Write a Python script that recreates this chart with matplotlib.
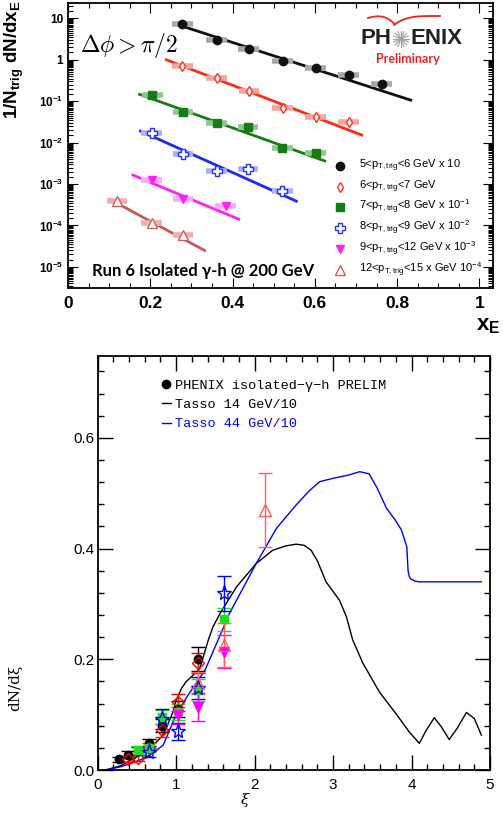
import numpy as np
import matplotlib.pyplot as plt
from matplotlib.lines import Line2D
from matplotlib.ticker import MultipleLocator, LogLocator, NullFormatter

plt.rcParams['font.family'] = ['Liberation Sans', 'DejaVu Sans']
plt.rcParams['mathtext.fontset'] = 'custom'
plt.rcParams['mathtext.rm'] = 'Liberation Sans'
plt.rcParams['mathtext.it'] = 'Liberation Sans:italic'
plt.rcParams['mathtext.bf'] = 'Liberation Sans:bold'

# ---------------- top panel data (x_E distributions) ----------------
xe_5_6 = [0.278, 0.361, 0.439, 0.522, 0.602, 0.682, 0.762]
dn_5_6 = [7.3, 3.0, 1.85, 0.93, 0.63, 0.43, 0.26]
xe_6_7 = [0.278, 0.361, 0.440, 0.522, 0.602, 0.682]
dn_6_7 = [0.72, 0.356, 0.178, 0.068, 0.041, 0.031]
xe_7_8 = [0.205, 0.279, 0.361, 0.438, 0.521, 0.602]
dn_7_8 = [0.14, 0.055, 0.030, 0.0237, 0.0075, 0.0055]
xe_8_9 = [0.203, 0.279, 0.361, 0.438, 0.521]
dn_8_9 = [0.0167, 0.0053, 0.00208, 0.00225, 0.00069]
xe_9_12 = [0.203, 0.279, 0.383]
dn_9_12 = [0.00124, 0.00043, 0.000297]
xe_12_15 = [0.119, 0.203, 0.279]
dn_12_15 = [0.00039, 0.000118, 5.8e-5]

# fit line end points (x, y)
fit_x = [(0.261, 0.833), (0.239, 0.714), (0.174, 0.624), (0.176, 0.555), (0.158, 0.415), (0.101, 0.332)]
fit_y = [(7.3, 0.106), (1.0, 0.0152), (0.146, 0.0036), (0.019, 0.000386), (0.00164, 0.000142), (0.00043, 2.5e-5)]

top_labels = [r'5<p$_{\mathrm{T,trig}}$<6 GeV x 10',
              r'6<p$_{\mathrm{T,trig}}$<7 GeV',
              r'7<p$_{\mathrm{T,trig}}$<8 GeV x 10$^{-1}$',
              r'8<p$_{\mathrm{T,trig}}$<9 GeV x 10$^{-2}$',
              r'9<p$_{\mathrm{T,trig}}$<12 GeV x 10$^{-3}$',
              r'12<p$_{\mathrm{T,trig}}$<15 x GeV 10$^{-4}$']

top_yticks = [10, 1, 0.1, 0.01, 1e-3, 1e-4, 1e-5]
top_yticklabels = ['10', '1', r'10$^{\mathbf{-1}}$', r'10$^{\mathbf{-2}}$', r'10$^{\mathbf{-3}}$',
                   r'10$^{\mathbf{-4}}$', r'10$^{\mathbf{-5}}$']
top_xticks = [0, 0.2, 0.4, 0.6, 0.8, 1.0]
top_xticklabels = ['0', '0.2', '0.4', '0.6', '0.8', '1']

# ---------------- bottom panel data (xi distributions) ----------------
xi_blk = [0.27, 0.38, 0.51, 0.65, 0.82, 1.02, 1.28]
y_blk = [0.019, 0.028, 0.035, 0.048, 0.080, 0.110, 0.200]
e_blk = [0.005, 0.006, 0.007, 0.008, 0.012, 0.015, 0.022]
xi_red = [0.38, 0.51, 0.65, 0.82, 1.02, 1.28]
y_red = [0.020, 0.022, 0.040, 0.072, 0.122, 0.193]
e_red = [0.006, 0.006, 0.008, 0.012, 0.015, 0.018]
xi_grn = [0.51, 0.65, 0.82, 1.02, 1.28, 1.61]
y_grn = [0.036, 0.040, 0.096, 0.105, 0.145, 0.272]
e_grn = [0.007, 0.008, 0.012, 0.015, 0.020, 0.020]
xi_blu = [0.65, 0.82, 1.02, 1.28, 1.61]
y_blu = [0.033, 0.092, 0.070, 0.148, 0.319]
e_blu = [0.010, 0.018, 0.015, 0.020, 0.032]
xi_mag = [1.02, 1.28, 1.61]
y_mag = [0.099, 0.114, 0.214]
e_mag = [0.015, 0.025, 0.030]
xi_pnk = [1.28, 1.61, 2.13]
y_pnk = [0.157, 0.226, 0.47]
e_pnk = [0.020, 0.040, 0.067]

tasso14_xi = [0.10, 0.30, 0.54, 0.70, 0.835, 0.96, 1.00, 1.07, 1.13, 1.22, 1.30, 1.41, 1.47, 1.56, 1.77,
              2.02, 2.23, 2.40, 2.53, 2.63, 2.72, 2.80, 2.91, 3.08, 3.17, 3.25, 3.38, 3.59, 3.80, 3.97,
              4.10, 4.18, 4.29, 4.38, 4.48, 4.58, 4.70, 4.80, 4.89]
tasso14_y = [0.0, 0.008, 0.027, 0.044, 0.063, 0.105, 0.126, 0.148, 0.160, 0.172, 0.183, 0.235, 0.259,
             0.283, 0.331, 0.373, 0.397, 0.405, 0.408, 0.406, 0.397, 0.378, 0.340, 0.307, 0.277, 0.235,
             0.193, 0.141, 0.102, 0.069, 0.048, 0.070, 0.0945, 0.078, 0.055, 0.075, 0.104, 0.093, 0.063]
tasso44_xi = [0.10, 0.30, 0.54, 0.70, 0.835, 1.00, 1.15, 1.37, 1.68, 2.02, 2.28, 2.53, 2.70, 2.83, 3.00,
              3.20, 3.34, 3.46, 3.56, 3.68, 3.80, 3.87, 3.94, 3.955, 3.97, 3.99, 4.05, 4.10, 4.89]
tasso44_y = [0.0, 0.006, 0.018, 0.030, 0.045, 0.100, 0.135, 0.181, 0.283, 0.373, 0.437, 0.479, 0.505,
             0.521, 0.527, 0.533, 0.539, 0.535, 0.510, 0.473, 0.450, 0.434, 0.403, 0.361, 0.350, 0.345,
             0.341, 0.340, 0.340]

W, H = 503, 814
fig = plt.figure(figsize=(W / 100, H / 100), dpi=100)


def fx(px):
    return px / W


def fy(py):
    return 1 - py / H


# ================= top panel =================
ax1 = fig.add_axes([fx(68), fy(288), 425 / W, 285 / H])
ax1.set_yscale('log')
ax1.set_xlim(0, 1.033)
ax1.set_ylim(3.1e-6, 23.4)

top_sets = [
    (xe_5_6, dn_5_6, 'o', '#111111', '#111111', '#a8a8a8', 6),
    (xe_6_7, dn_6_7, 'd', 'white', '#ff3322', '#f4a6a0', 5),
    (xe_7_8, dn_7_8, 's', '#167d16', '#167d16', '#90c890', 6),
    (xe_8_9, dn_8_9, 'P', 'white', '#2233ff', '#a8b0ff', 7),
    (xe_9_12, dn_9_12, 'v', '#ff22ee', '#ff22ee', '#ffa8f4', 6),
    (xe_12_15, dn_12_15, '^', 'white', '#d06060', '#f0b0b0', 7),
]
line_cols = ['#111111', '#ff2a12', '#167d16', '#1a2aff', '#ff22ee', '#c45a5a']
for i, ((xs, ys, mk, fc, ec, lc, ms), lx, ly, lcol) in enumerate(zip(top_sets, fit_x, fit_y, line_cols)):
    ax1.plot(lx, ly, color=lcol, lw=2, zorder=2)
    ax1.errorbar(xs, ys, xerr=0.025, fmt='none', ecolor=lc, elinewidth=4, zorder=3)
    ax1.plot(xs, ys, ls='none', marker=mk, mfc=fc, mec=ec, ms=ms, mew=1.0, zorder=4)
    # legend row
    ry = fy(166 + i * 20.7)
    ax1.plot([fx(340)], [ry], transform=fig.transFigure, ls='none', marker=mk, mfc=fc, mec=ec,
             ms=ms, mew=1.0, clip_on=False)
    ax1.text(fx(359), ry, top_labels[i], transform=fig.transFigure, ha='left', va='center',
             fontsize=8)

ax1.set_yticks(top_yticks)
ax1.set_yticklabels(top_yticklabels, fontsize=8.5, fontweight='bold')
ax1.yaxis.set_minor_locator(LogLocator(base=10, subs=np.arange(1.5, 10, 0.5), numticks=20))
ax1.yaxis.set_minor_formatter(NullFormatter())
ax1.set_xticks(top_xticks)
ax1.set_xticklabels(top_xticklabels, fontsize=12.5, fontweight='bold')
ax1.xaxis.set_minor_locator(MultipleLocator(0.05))
ax1.tick_params(which='both', direction='in', right=True, top=True, width=0.8)
ax1.tick_params(which='major', length=7)
ax1.tick_params(which='minor', length=3.5)
ax1.tick_params(axis='x', pad=6)
for s in ax1.spines.values():
    s.set_linewidth(1.3)

ax1.text(-0.125, 1.01, r'1/N$_{\mathbf{trig}}$ dN/dx$_{\mathbf{E}}$', transform=ax1.transAxes,
         rotation=90, ha='center', va='top', fontsize=13.5, fontweight='bold')
fig.text(fx(500), fy(326), r'x$_{\mathbf{E}}$', ha='right', va='center', fontsize=16, fontweight='bold')
ax1.text(0.028, 0.85, r'$\Delta\phi > \pi/2$', transform=ax1.transAxes, ha='left', va='center',
         fontsize=17, math_fontfamily='cm')
ax1.text(0.056, 0.06, 'Run 6 Isolated γ-h @ 200 GeV', transform=ax1.transAxes, ha='left',
         va='center', fontsize=12, fontweight='bold', family=['Lato', 'DejaVu Sans'])

# PHENIX logo
fig.text(fx(360), fy(39), 'PH', ha='left', va='center', fontsize=16, fontweight='bold', color='#222222')
fig.text(fx(410), fy(39), 'ENIX', ha='left', va='center', fontsize=16, fontweight='bold', color='#222222')
for ang in np.linspace(0, np.pi, 9)[:-1]:
    dx, dy = 8 * np.cos(ang), 8 * np.sin(ang)
    ax1.plot([fx(401 - dx), fx(401 + dx)], [fy(39 - dy), fy(39 + dy)], transform=fig.transFigure,
             color='#a0a0a0', lw=0.8, clip_on=False)
t = np.linspace(0, 1, 30)
ax1.plot(fx(368 + 26 * t), fy(18 - 2.5 * np.sin(np.pi * t * 0.8) + 7 * t ** 3), transform=fig.transFigure,
         color='#ee2222', lw=1.3, clip_on=False)
ax1.plot(fx(394 + 46 * t), fy(16 + 9 * (1 - t) ** 4), transform=fig.transFigure,
         color='#ee2222', lw=1.3, clip_on=False)
fig.text(fx(408), fy(59), 'Preliminary', ha='center', va='center', fontsize=9,
         fontweight='bold', color='#ee2222', family=['Lato', 'DejaVu Sans'])

# ================= bottom panel =================
ax2 = fig.add_axes([fx(97.7), fy(770), 392.3 / W, 414 / H])
ax2.set_xlim(0, 5)
ax2.set_ylim(0, 0.748)

ax2.plot(tasso14_xi, tasso14_y, color='black', lw=1.0, zorder=2)
ax2.plot(tasso44_xi, tasso44_y, color='#0000ff', lw=1.0, zorder=2)

bot_sets = [
    (xi_blk, y_blk, e_blk, 'o', 'black', 'black', 6),
    (xi_red, y_red, e_red, 'D', 'none', '#ff0000', 6),
    (xi_grn, y_grn, e_grn, 's', '#22dd22', '#22dd22', 6),
    (xi_blu, y_blu, e_blu, '*', 'none', '#0000ff', 11),
    (xi_mag, y_mag, e_mag, 'v', '#ff00ff', '#ff00ff', 7),
    (xi_pnk, y_pnk, e_pnk, '^', 'none', '#ff6060', 9),
]
for xs, ys, es, mk, fc, ec, ms in bot_sets:
    ax2.errorbar(xs, ys, yerr=es, fmt=mk, mfc=fc, mec=ec, ecolor=ec, ms=ms, mew=1.0,
                 elinewidth=1.0, capsize=5, capthick=1.0, zorder=3)

ax2.set_xticks([0, 1, 2, 3, 4, 5])
ax2.set_xticklabels(['0', '1', '2', '3', '4', '5'])
ax2.set_yticks([0.0, 0.2, 0.4, 0.6])
ax2.set_yticklabels(['0.0', '0.2', '0.4', '0.6'])
ax2.xaxis.set_minor_locator(MultipleLocator(0.2))
ax2.yaxis.set_minor_locator(MultipleLocator(0.04))
ax2.tick_params(which='both', direction='in', top=True, right=True, labelsize=11, width=1.0)
ax2.tick_params(which='major', length=11)
ax2.tick_params(which='minor', length=4)
ax2.tick_params(axis='x', pad=6)
ax2.tick_params(axis='y', pad=2)
for s in ax2.spines.values():
    s.set_linewidth(1.3)

ax2.text(-0.21, 0.198, 'dN/dξ', transform=ax2.transAxes, rotation=90, ha='center', va='center',
         fontsize=11, family='DejaVu Serif')
ax2.text(0.375, -0.072, 'ξ', transform=ax2.transAxes, ha='center', va='center', fontsize=11,
         family='DejaVu Serif', style='italic')

leg_handles = [Line2D([], [], ls='none', marker='o', color='black', ms=6),
               Line2D([], [], color='black', lw=1.0),
               Line2D([], [], color='#0000ff', lw=1.0)]
leg_labels = ['PHENIX isolated−γ−h PRELIM', 'Tasso 14 GeV/10', 'Tasso 44 GeV/10']
ax2.legend(leg_handles, leg_labels, loc='upper left', bbox_to_anchor=(0.165, 0.943), frameon=False,
           prop={'family': ['Liberation Mono', 'DejaVu Sans Mono'], 'size': 9.7},
           labelcolor=['black', 'black', '#0000ff'], handlelength=0.6, handletextpad=0.35,
           labelspacing=0.5, borderpad=0, borderaxespad=0)

fig.savefig('out.png', dpi=100)
